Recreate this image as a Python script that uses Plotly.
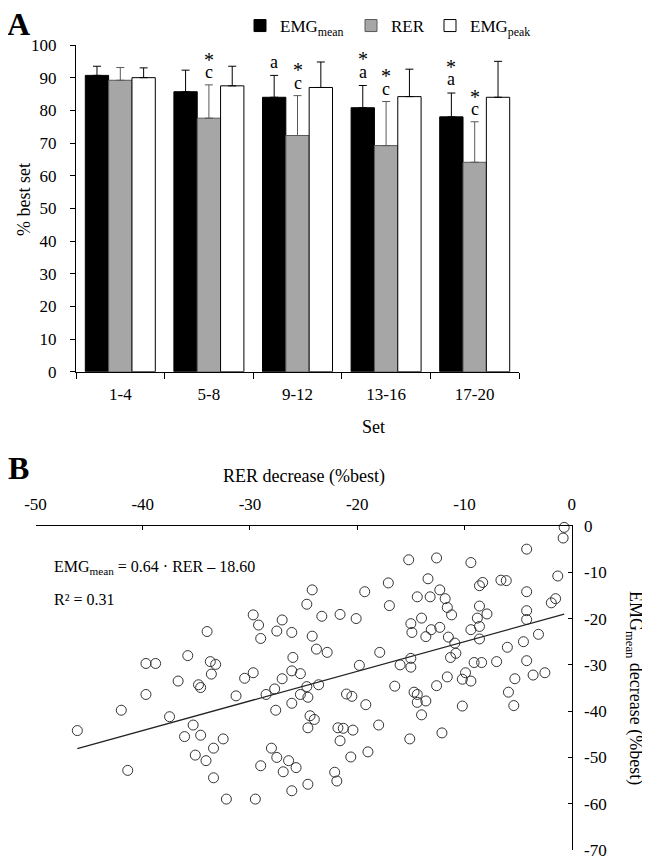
import plotly.graph_objects as go

# ---------------- Data: panel A ----------------
sets = ["1-4", "5-8", "9-12", "13-16", "17-20"]
emg_mean = [90.7, 85.7, 84.0, 80.8, 78.0]
emg_mean_sd = [2.8, 6.6, 6.7, 6.8, 7.3]
rer = [89.2, 77.6, 72.3, 69.2, 64.1]
rer_sd = [3.9, 10.2, 12.2, 13.5, 12.4]
emg_peak = [90.0, 87.5, 87.0, 84.2, 84.0]
emg_peak_sd = [3.0, 6.0, 7.8, 8.4, 11.0]

# significance labels (stacked, bottom first)
emg_mean_marks = ["", "", "a", "a*", "a*"]
rer_marks = ["", "c*", "c*", "c*", "c*"]

# ---------------- Data: panel B ----------------
rer_decrease = [
    -0.7, -0.8, -4.2, -15.2, -12.6, -9.4, -1.3, -13.4, -17.1, -19.3,
    -8.6, -8.3, -6.6, -6.1, -4.2, -12.3, -14.4, -13.2, -11.8, -11.6,
    -11.2, -17.0, -8.6, -7.9, -8.8, -8.6, -9.4, -4.2, -4.2, -1.9,
    -1.5, -21.6, -20.1, -23.3, -15.0, -14.0, -14.9, -13.6, -13.1, -12.3,
    -11.5, -10.9, -10.8, -11.3, -8.6, -6.0, -4.5, -3.1, -4.2, -7.0,
    -9.1, -8.4, -17.9, -19.8, -16.0, -15.0, -15.0, -22.8,
    -16.5, -21.0, -20.5, -19.2, -14.7, -14.4, -14.4, -13.6, -14.0, -12.6,
    -11.6, -10.2, -9.4, -9.9, -10.2, -5.9, -5.3, -5.4, -3.6, -2.5,
    -21.8, -21.3, -20.4, -21.6, -18.0, -15.1, -12.1, -19.0, -20.6, -22.1,
    -21.9,
    -46.1, -42.0, -41.4, -39.7, -36.7, -34.8, -34.6, -33.6, -37.5, -35.3,
    -36.1, -34.6, -32.5, -33.4, -35.1, -34.1, -33.4, -32.2, -29.5, -31.3,
    -30.5, -29.7, -28.5, -27.7, -27.0, -26.1, -25.3, -27.6, -26.1, -25.3,
    -24.6, -24.7, -23.6, -24.4, -24.0, -24.6, -28.0, -27.5, -26.4, -25.7,
    -26.9, -29.0, -24.6, -26.1,
    -24.2, -24.7, -29.7, -29.2, -29.0, -27.0, -27.5, -26.1, -24.2, -23.8,
    -34.0, -35.8, -33.7, -33.2, -39.7, -38.8, -26.0,
]
emg_decrease = [
    -0.3, -2.6, -5.0, -7.3, -6.9, -7.9, -10.8, -11.4, -12.3, -14.2,
    -12.9, -12.2, -11.7, -11.8, -14.2, -13.8, -15.3, -15.3, -15.7, -17.6,
    -19.2, -17.2, -17.3, -19.0, -19.9, -21.7, -22.4, -18.3, -20.2, -16.6,
    -15.7, -19.1, -20.0, -19.5, -21.1, -19.9, -23.0, -23.9, -22.4, -21.9,
    -24.0, -25.3, -27.5, -28.4, -24.4, -26.2, -25.0, -23.4, -29.1, -29.3,
    -29.5, -29.5, -27.3, -30.1, -30.0, -28.6, -30.5, -27.3,
    -34.6, -36.3, -36.8, -38.6, -35.9, -36.4, -38.1, -37.8, -40.8, -34.5,
    -32.6, -33.1, -33.5, -31.7, -38.9, -35.9, -33.0, -38.8, -32.2, -31.7,
    -43.6, -43.7, -44.1, -46.4, -43.0, -46.0, -44.7, -48.8, -49.9, -53.2,
    -55.1,
    -44.2, -39.8, -52.8, -36.4, -33.5, -34.3, -34.9, -32.0, -41.2, -43.0,
    -45.5, -45.2, -46.0, -48.0, -49.5, -50.7, -54.4, -59.0, -59.0, -36.7,
    -32.9, -31.7, -36.4, -35.2, -33.0, -31.3, -31.9, -39.8, -38.3, -36.4,
    -37.0, -34.7, -34.3, -41.0, -41.8, -43.6, -48.0, -50.0, -50.7, -52.2,
    -53.1, -51.8, -55.8, -57.2,
    -13.8, -16.9, -19.2, -21.4, -24.3, -20.3, -22.7, -23.0, -23.8, -26.6,
    -22.8, -28.0, -29.3, -29.9, -29.7, -29.7, -28.4,
]
slope = 0.64
intercept = -18.60
r2 = 0.31

x_ticks_b = [-50, -40, -30, -20, -10, 0]
y_ticks_b = [0, -10, -20, -30, -40, -50, -60, -70]

# ---------------- Styling ----------------
FONT = "Liberation Serif, Times New Roman, serif"
PAGE_MARGIN = 8          # default body margin of the html page
W, H = 650 - PAGE_MARGIN, 860 - PAGE_MARGIN


def px(x):
    """page x pixel -> paper fraction"""
    return (x - PAGE_MARGIN) / W


def py(y):
    """page y pixel -> paper fraction"""
    return 1 - (y - PAGE_MARGIN) / H


bargap = 0.21
barw_px = 23.3

fig = go.Figure()

fig.add_trace(go.Bar(
    x=sets, y=emg_mean, name="EMG<sub>mean</sub>",
    marker=dict(color="black", line=dict(color="black", width=1)),
    error_y=dict(type="data", symmetric=False, array=emg_mean_sd,
                 arrayminus=[0] * len(sets), color="black", thickness=1, width=4),
    xaxis="x", yaxis="y", legend="legend",
))
fig.add_trace(go.Bar(
    x=sets, y=rer, name="RER",
    marker=dict(color="#a6a6a6", line=dict(color="#595959", width=1)),
    error_y=dict(type="data", symmetric=False, array=rer_sd,
                 arrayminus=[0] * len(sets), color="#595959", thickness=1, width=4),
    xaxis="x", yaxis="y", legend="legend2",
))
fig.add_trace(go.Bar(
    x=sets, y=emg_peak, name="EMG<sub>peak</sub>",
    marker=dict(color="white", line=dict(color="black", width=1)),
    error_y=dict(type="data", symmetric=False, array=emg_peak_sd,
                 arrayminus=[0] * len(sets), color="black", thickness=1, width=4),
    xaxis="x", yaxis="y", legend="legend3",
))

# scatter
fig.add_trace(go.Scatter(
    x=rer_decrease, y=emg_decrease, mode="markers",
    marker=dict(symbol="circle-open", size=10, color="#333333", line=dict(width=1)),
    xaxis="x2", yaxis="y2", showlegend=False, cliponaxis=False,
))
x_line = [min(rer_decrease), max(rer_decrease)]
fig.add_trace(go.Scatter(
    x=x_line, y=[slope * v + intercept for v in x_line], mode="lines",
    line=dict(color="#222222", width=1.3),
    xaxis="x2", yaxis="y2", showlegend=False,
))

annotations = []
# significance marks above error bars
for i, s in enumerate(sets):
    top_m = emg_mean[i] + emg_mean_sd[i]
    for j, ch in enumerate(emg_mean_marks[i]):
        annotations.append(dict(
            x=s, y=top_m + 4.2 + 3.8 * j, xref="x", yref="y", text=ch,
            showarrow=False, xshift=-barw_px, xanchor="center", yanchor="middle",
            font=dict(family=FONT, size=20 if ch == "*" else 18, color="black"),
        ))
    top_r = rer[i] + rer_sd[i]
    for j, ch in enumerate(rer_marks[i]):
        annotations.append(dict(
            x=s, y=top_r + 3.8 + 3.9 * j, xref="x", yref="y", text=ch,
            showarrow=False, xshift=0, xanchor="center", yanchor="middle",
            font=dict(family=FONT, size=20 if ch == "*" else 18, color="black"),
        ))

txt = dict(showarrow=False, xref="paper", yref="paper", xanchor="center", yanchor="middle")
annotations += [
    dict(text="<b>A</b>", x=px(19), y=py(24), font=dict(family=FONT, size=32, color="black"), **txt),
    dict(text="<b>B</b>", x=px(19), y=py(468), font=dict(family=FONT, size=32, color="black"), **txt),
    dict(text="% best set", x=px(24), y=py(200), textangle=-90,
         font=dict(family=FONT, size=18, color="black"), **txt),
    dict(text="Set", x=px(374), y=py(427), font=dict(family=FONT, size=18, color="black"), **txt),
    dict(text="RER decrease (%best)", x=px(303.6), y=py(476),
         font=dict(family=FONT, size=18, color="black"), **txt),
    dict(text="EMG<sub>mean</sub> decrease (%best)", x=px(635), y=py(688), textangle=90,
         font=dict(family=FONT, size=18, color="black"), **txt),
]
left_txt = dict(showarrow=False, xref="paper", yref="paper", xanchor="left", yanchor="middle")
annotations += [
    dict(text="EMG<sub>mean</sub> = %.2f · RER – %.2f" % (slope, abs(intercept)),
         x=px(52), y=py(567), font=dict(family=FONT, size=16, color="black"), **left_txt),
    dict(text="R² = %.2f" % r2, x=px(52), y=py(599),
         font=dict(family=FONT, size=16, color="black"), **left_txt),
]

axis_common = dict(showline=True, linecolor="black", linewidth=1, showgrid=False,
                   zeroline=False, tickcolor="black", tickwidth=1,
                   tickfont=dict(family=FONT, size=17, color="black"))

leg_common = dict(orientation="v", bgcolor="rgba(0,0,0,0)", borderwidth=0,
                  font=dict(family=FONT, size=17, color="black"),
                  xanchor="left", yanchor="middle")

fig.update_layout(
    width=W, height=H,
    margin=dict(l=0, r=0, t=0, b=0, autoexpand=False),
    paper_bgcolor="white", plot_bgcolor="white",
    barmode="group", bargap=bargap, bargroupgap=0,
    font=dict(family=FONT, size=17, color="black"),
    xaxis=dict(domain=[px(76), px(519)], anchor="y", type="category",
               ticks="outside", ticklen=6, tickson="boundaries",
               ticklabelstandoff=7, **axis_common),
    yaxis=dict(domain=[py(371.7), py(45)], anchor="x", range=[0, 100], dtick=10,
               ticks="outside", ticklen=5, ticklabelstandoff=10, **axis_common),
    xaxis2=dict(domain=[px(35.5), px(571.7)], anchor="y2", side="top",
                range=[-50, 0], tickvals=x_ticks_b, ticktext=[str(v) for v in x_ticks_b],
                ticks="inside", ticklen=4, ticklabelstandoff=8, **axis_common),
    yaxis2=dict(domain=[py(850), py(526)], anchor="x2", side="right",
                range=[-70, 0], tickvals=y_ticks_b, ticktext=[str(v) for v in y_ticks_b],
                ticks="inside", ticklen=4, ticklabelstandoff=8, **axis_common),
    legend=dict(x=px(240), y=py(26), **leg_common),
    legend2=dict(x=px(351), y=py(26), **leg_common),
    legend3=dict(x=px(430), y=py(26), **leg_common),
    annotations=annotations,
)

fig.write_html("out.html")
